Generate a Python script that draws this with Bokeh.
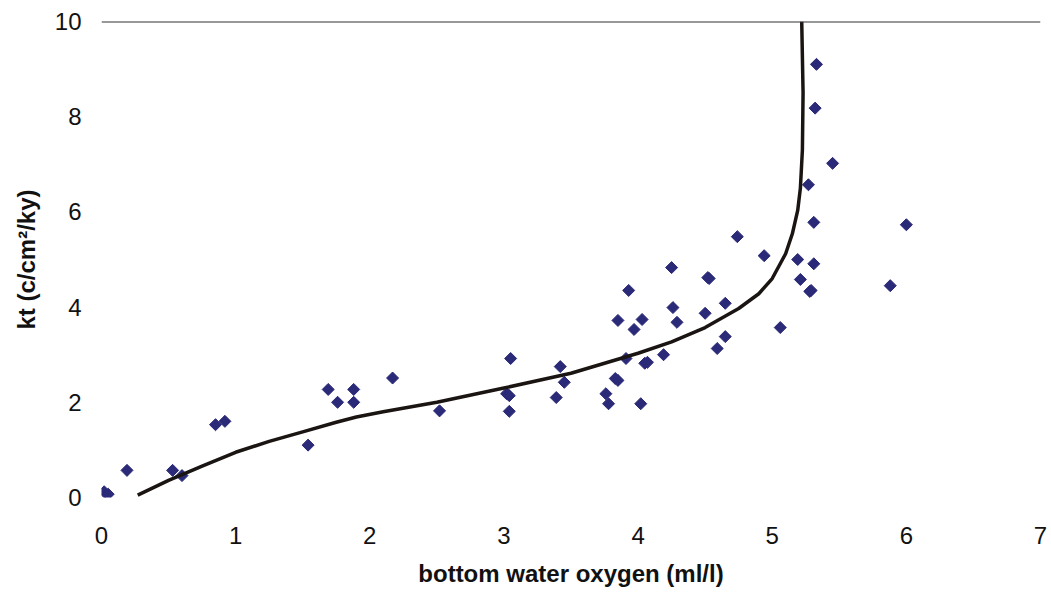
from bokeh.plotting import figure
from bokeh.models import Span, FixedTicker, Range1d
from bokeh.embed import file_html
from bokeh.resources import INLINE
import math

# Observations: bottom water oxygen (ml/l) vs kt (c/cm2/ky)
oxygen = [0.02, 0.05, 0.19, 0.53, 0.60, 0.85, 0.92, 1.54, 1.69, 1.76, 1.88, 1.88,
          2.17, 2.52, 3.05, 3.02, 3.04, 3.04, 3.42, 3.45, 3.39, 3.76, 3.78, 3.83,
          3.85, 3.91, 3.85, 3.93, 3.97, 4.03, 4.02, 4.05, 4.07, 4.19, 4.25, 4.26,
          4.29, 4.50, 4.52, 4.53, 4.59, 4.65, 4.65, 4.74, 4.94, 5.06, 5.19, 5.21,
          5.28, 5.29, 5.31, 5.31, 5.27, 5.45, 5.32, 5.33, 5.88, 6.00]
kt = [0.12, 0.07, 0.57, 0.57, 0.46, 1.53, 1.60, 1.10, 2.27, 2.00, 2.27, 2.00,
      2.51, 1.82, 2.92, 2.18, 2.14, 1.81, 2.75, 2.42, 2.10, 2.18, 1.97, 2.50,
      2.46, 2.92, 3.72, 4.35, 3.53, 3.74, 1.97, 2.82, 2.84, 3.00, 4.83, 3.99,
      3.68, 3.87, 4.62, 4.60, 3.13, 3.38, 4.08, 5.48, 5.08, 3.57, 5.00, 4.58,
      4.33, 4.35, 4.91, 5.78, 6.57, 7.02, 8.18, 9.10, 4.45, 5.73]

# Fitted curve
curve_x = [0.27, 0.50, 0.75, 1.00, 1.25, 1.50, 1.75, 1.90, 2.10, 2.50, 3.00,
           3.50, 4.00, 4.25, 4.50, 4.75, 4.90, 5.00, 5.10, 5.15, 5.19, 5.21,
           5.225, 5.23, 5.22]
curve_y = [0.05, 0.36, 0.66, 0.95, 1.18, 1.38, 1.58, 1.69, 1.80, 2.00, 2.30,
           2.61, 3.03, 3.27, 3.57, 3.97, 4.28, 4.60, 5.12, 5.54, 6.03, 6.50,
           7.30, 8.50, 10.00]

x_ticks = [0, 1, 2, 3, 4, 5, 6, 7]
y_ticks = [0, 2, 4, 6, 8, 10]

p = figure(width=1051, height=595, output_backend="svg", toolbar_location=None,
           x_range=Range1d(0, 7), y_range=Range1d(0, 10))
p.min_border_left = 101
p.min_border_right = 11
p.min_border_top = 21
p.min_border_bottom = 98
p.outline_line_color = None
p.background_fill_color = "white"
p.border_fill_color = "white"
p.xgrid.grid_line_color = None
p.ygrid.grid_line_color = None

p.scatter(oxygen, kt, marker="square", size=8.5, angle=math.pi / 4,
          fill_color="#2a2a78", line_color="#2a2a78", line_width=1)
p.line(curve_x, curve_y, line_color="#1a1512", line_width=3.5, line_join="round")

p.add_layout(Span(location=10, dimension="width", line_color="#333333", line_width=2))

font = "Liberation Sans"
for ax in (p.xaxis[0], p.yaxis[0]):
    ax.axis_line_color = None
    ax.major_tick_line_color = None
    ax.minor_tick_line_color = None
    ax.major_tick_out = 0
    ax.major_tick_in = 0
    ax.major_label_text_font = font
    ax.major_label_text_font_size = "24px"
    ax.major_label_text_color = "#111111"
    ax.axis_label_text_font = font
    ax.axis_label_text_font_style = "bold"
    ax.axis_label_text_font_size = "24px"
    ax.axis_label_text_color = "#111111"

p.xaxis[0].ticker = FixedTicker(ticks=x_ticks)
p.yaxis[0].ticker = FixedTicker(ticks=y_ticks)
p.xaxis[0].major_label_standoff = 29
p.yaxis[0].major_label_standoff = 20
p.xaxis[0].axis_label = "bottom water oxygen (ml/l)"
p.yaxis[0].axis_label = "kt (c/cm²/ky)"
p.xaxis[0].axis_label_standoff = 13
p.yaxis[0].axis_label_standoff = 12

open("out.html", "w").write(file_html(p, INLINE))
